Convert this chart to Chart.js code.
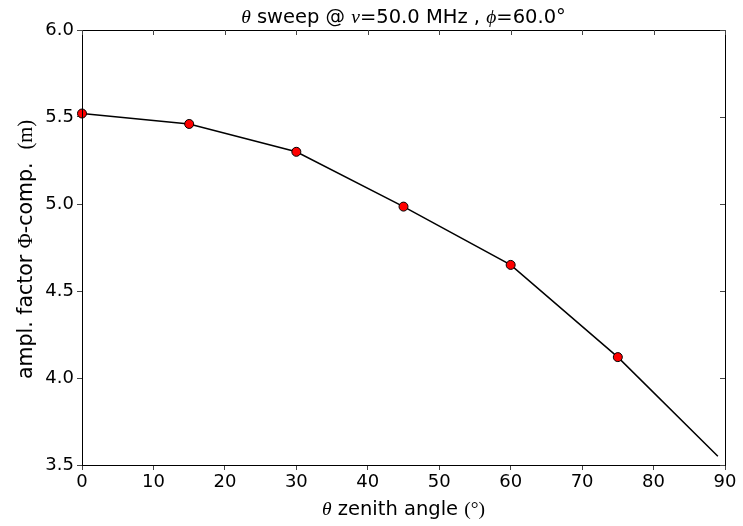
<!DOCTYPE html>
<html>
<head>
<meta charset="utf-8">
<script src="https://cdn.jsdelivr.net/npm/chart.js@4"></script>
<style>
  html, body { margin: 0; padding: 0; background: #fff; }
  #wrap { width: 743px; height: 526px; }
</style>
</head>
<body>
<div id="wrap"><canvas id="chart" width="743" height="526"></canvas></div>
<script>
// theta sweep data
const thetaDeg = [0, 15, 30, 45, 60, 75, 89];
const amplPhi = [5.52, 5.46, 5.30, 4.985, 4.65, 4.12, 3.55];
const xTicks = [0, 10, 20, 30, 40, 50, 60, 70, 80, 90];
const yTicks = [3.5, 4.0, 4.5, 5.0, 5.5, 6.0];

// text runs: s = sans, i = math italic, r = math roman
const titleRuns = [['θ', 'i'], [' sweep @ ', 's'], ['ν', 'i'], ['=50.0 MHz , ', 's'], ['ϕ', 'i'], ['=60.0°', 's']];
const xTitleRuns = [['θ', 'i'], [' zenith angle ', 's'], ['(°)', 'r']];
const yTitleRuns = [['ampl. factor ', 's'], ['Φ', 'r'], ['-comp.  ', 's'], ['(m)', 'r']];

const FONT = 'DejaVu Sans';

function runFont(kind, size) {
  if (kind === 'i') return `italic ${size}px "Liberation Serif"`;
  if (kind === 'r') return `${size}px "Liberation Serif"`;
  return `${size}px "${FONT}"`;
}

// draws runs centred on (0,0) baseline
function drawRuns(ctx, runs, size) {
  let total = 0;
  const widths = runs.map(([t, k]) => {
    ctx.font = runFont(k, size);
    const w = ctx.measureText(t).width;
    total += w;
    return w;
  });
  let x = -total / 2;
  runs.forEach(([t, k], i) => {
    ctx.font = runFont(k, size);
    ctx.fillText(t, x, 0);
    x += widths[i];
  });
}

// frame, inward ticks on top/right, and mixed-font titles
const framePlugin = {
  id: 'frame',
  afterDatasetsDraw(chart) {
    const { ctx, chartArea: a, scales } = chart;
    ctx.save();
    ctx.strokeStyle = '#000';
    ctx.lineWidth = 1;
    ctx.strokeRect(a.left + 0.5, a.top + 0.5, a.right - a.left, a.bottom - a.top);
    ctx.strokeStyle = '#444';
    ctx.beginPath();
    xTicks.forEach(v => {
      const px = Math.round(scales.x.getPixelForValue(v)) + 0.5;
      ctx.moveTo(px, a.top);
      ctx.lineTo(px, a.top + 5);
    });
    yTicks.forEach(v => {
      const py = Math.round(scales.y.getPixelForValue(v)) + 0.5;
      ctx.moveTo(a.right, py);
      ctx.lineTo(a.right - 5, py);
    });
    ctx.stroke();

    ctx.fillStyle = '#000';
    ctx.textBaseline = 'alphabetic';
    ctx.textAlign = 'left';
    const cx = (a.left + a.right) / 2;
    const cy = (a.top + a.bottom) / 2;

    ctx.save();
    ctx.translate(cx, a.top - 7);
    drawRuns(ctx, titleRuns, 19.5);
    ctx.restore();

    ctx.save();
    ctx.translate(cx, a.bottom + 50);
    drawRuns(ctx, xTitleRuns, 19.5);
    ctx.restore();

    ctx.save();
    ctx.translate(32, cy + 2);
    ctx.rotate(-Math.PI / 2);
    drawRuns(ctx, yTitleRuns, 20.5);
    ctx.restore();

    ctx.restore();
  }
};

new Chart(document.getElementById('chart'), {
  type: 'line',
  data: {
    datasets: [{
      data: thetaDeg.map((t, i) => ({ x: t, y: amplPhi[i] })),
      borderColor: '#000',
      borderWidth: 1.5,
      tension: 0,
      fill: false,
      clip: false,
      pointRadius: ctx => (thetaDeg[ctx.dataIndex] % 15 === 0 ? 4.5 : 0),
      pointBackgroundColor: '#ff0000',
      pointBorderColor: '#000',
      pointBorderWidth: 1
    }]
  },
  options: {
    responsive: false,
    animation: false,
    layout: { padding: { right: 18, top: 30, left: 0, bottom: 0 } },
    plugins: {
      legend: { display: false },
      tooltip: { enabled: false },
      title: { display: false }
    },
    scales: {
      x: {
        type: 'linear',
        min: 0,
        max: 90,
        afterBuildTicks: s => { s.ticks = xTicks.map(v => ({ value: v })); },
        afterFit: s => { s.height = 61; },
        grid: { display: true, drawOnChartArea: false, tickLength: 5, color: '#444' },
        border: { display: true, color: '#000' },
        ticks: { color: '#000', font: { family: FONT, size: 18 }, padding: 2, maxRotation: 0 },
        title: { display: false }
      },
      y: {
        type: 'linear',
        min: 3.5,
        max: 6.0,
        afterBuildTicks: s => { s.ticks = yTicks.map(v => ({ value: v })); },
        afterFit: s => { s.width = 82; },
        grid: { display: true, drawOnChartArea: false, tickLength: 5, color: '#444' },
        border: { display: true, color: '#000' },
        ticks: {
          color: '#000',
          font: { family: FONT, size: 18 },
          padding: 3,
          callback: v => Number(v).toFixed(1)
        },
        title: { display: false }
      }
    }
  },
  plugins: [framePlugin]
});
</script>
</body>
</html>
